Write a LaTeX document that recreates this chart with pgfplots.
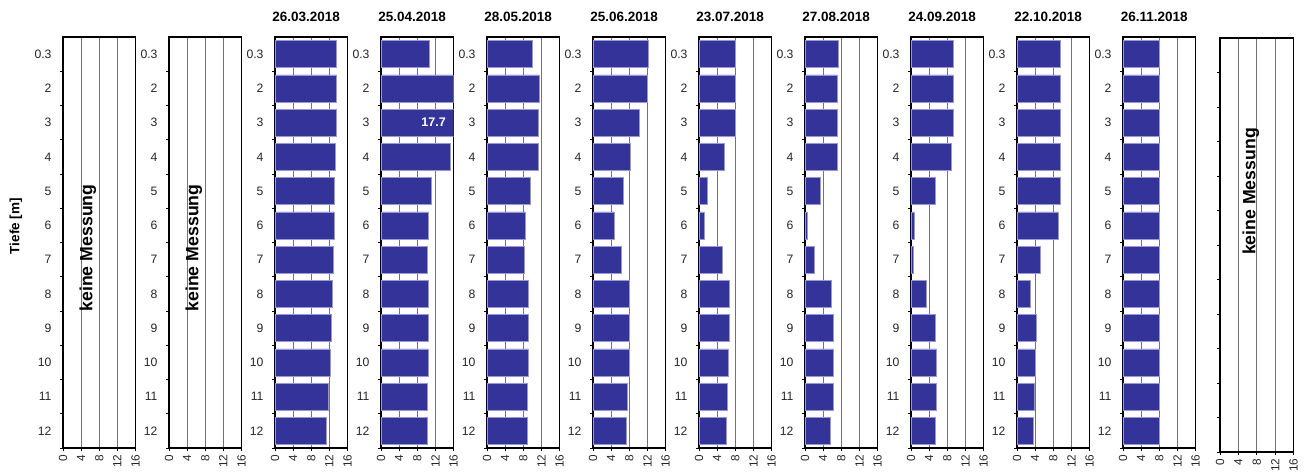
\documentclass[border=0pt]{standalone}
\usepackage{pgfplots}
\usepackage{pgfplotstable}
\pgfplotsset{compat=1.18}
\usepackage{fontspec}
\setmainfont{Liberation Sans}
\definecolor{barblue}{RGB}{51,51,153}
\definecolor{baredge}{RGB}{150,150,230}

\pgfplotstableread{
idx A B C D E F G H I
0 13.6 10.7 10.1 12.2 8.0 7.3 9.3 9.6 8.0
1 13.6 15.9 11.5 12.0 8.0 7.2 9.3 9.6 8.0
2 13.6 17.7 11.4 10.2 8.0 7.2 9.3 9.6 8.0
3 13.2 15.2 11.4 8.2 5.5 7.2 9.0 9.6 8.0
4 13.1 11.2 9.6 6.6 1.9 3.3 5.4 9.6 8.0
5 13.0 10.5 8.5 4.6 1.25 0.5 0.7 9.1 8.0
6 12.9 10.2 8.3 6.3 5.2 2.0 0.5 5.2 8.0
7 12.7 10.4 9.1 7.9 6.6 5.8 3.4 3.0 8.0
8 12.4 10.4 9.2 7.9 6.7 6.3 5.4 4.3 8.0
9 12.1 10.4 9.2 7.9 6.5 6.3 5.5 4.1 8.0
10 11.8 10.3 9.0 7.6 6.3 6.2 5.5 3.9 8.0
11 11.4 10.2 9.0 7.4 6.1 5.5 5.4 3.7 8.0
}\datatable

\tikzset{kmnode/.style={rotate=90, font=\bfseries\fontsize{17.7}{18}\selectfont}}

\pgfplotsset{
  panel/.style={
    scale only axis, width=72.5pt, height=411pt,
    anchor=south west,
    xmin=0, xmax=16, ymin=-0.5, ymax=11.5, y dir=reverse,
    xtick={0,4,8,12,16},
    xmajorgrids, grid style={black!55, line width=1pt},
    ytick={0.5,1.5,...,11.5}, yticklabels={},
    extra y ticks={0,1,...,11},
    extra y tick labels={0.3,2,3,4,5,6,7,8,9,10,11,12},
    extra y tick style={major tick length=0pt, tick style={draw=none},
      yticklabel style={xshift=-8pt}},
    tick align=outside, xtick pos=left, ytick pos=left,
    major tick length=3pt,
    tick style={black, line width=0.8pt},
    axis line style={black, line width=1.1pt},
    /pgf/number format/assume math mode=true,
    x tick label style={rotate=90, anchor=east, font=\fontsize{11.8}{12}\selectfont, text=black!85},
    y tick label style={font=\fontsize{12.2}{13}\selectfont, text=black!85},
    title style={font=\bfseries\fontsize{13.5}{15}\selectfont, at={(0.43,1)}, anchor=base, yshift=9pt},
  },
}

\newcommand{\datapanel}[3]{%
\begin{axis}[panel, at={(#1pt,25pt)}, title={#3}]
\addplot[xbar, bar width=27pt, fill=barblue, draw=baredge, line width=0.6pt] table[x=#2, y=idx] {\datatable};
\end{axis}}

\begin{document}
\begin{tikzpicture}
\useasboundingbox (0,0) rectangle (1314pt,473pt);

\begin{axis}[panel, at={(63pt,25pt)},
  ylabel={Tiefe [m]},
  ylabel style={at={(axis description cs:-0.65,0.54)}, anchor=center, font=\bfseries\fontsize{13.5}{14}\selectfont}]
\node[kmnode] at (axis cs:5.5,5.66) {keine Messung};
\end{axis}

\begin{axis}[panel, at={(169pt,25pt)}]
\node[kmnode] at (axis cs:5.5,5.66) {keine Messung};
\end{axis}

\datapanel{275}{A}{26.03.2018}

\begin{axis}[panel, at={(381pt,25pt)}, title={25.04.2018}]
\addplot[xbar, bar width=27pt, fill=barblue, draw=baredge, line width=0.6pt] table[x=B, y=idx] {\datatable};
\node[text=white, font=\bfseries\fontsize{12.5}{13}\selectfont] at (axis cs:11.6,2) {17.7};
\end{axis}

\datapanel{487}{C}{28.05.2018}
\datapanel{593}{D}{25.06.2018}
\datapanel{699}{E}{23.07.2018}
\datapanel{805}{F}{27.08.2018}
\datapanel{911}{G}{24.09.2018}
\datapanel{1017}{H}{22.10.2018}
\datapanel{1123}{I}{26.11.2018}

\begin{axis}[panel, at={(1220pt,21pt)}, width=73.5pt, height=414pt, extra y tick labels={}]
\node[kmnode] at (axis cs:6.7,3.95) {keine Messung};
\end{axis}
\end{tikzpicture}
\end{document}
